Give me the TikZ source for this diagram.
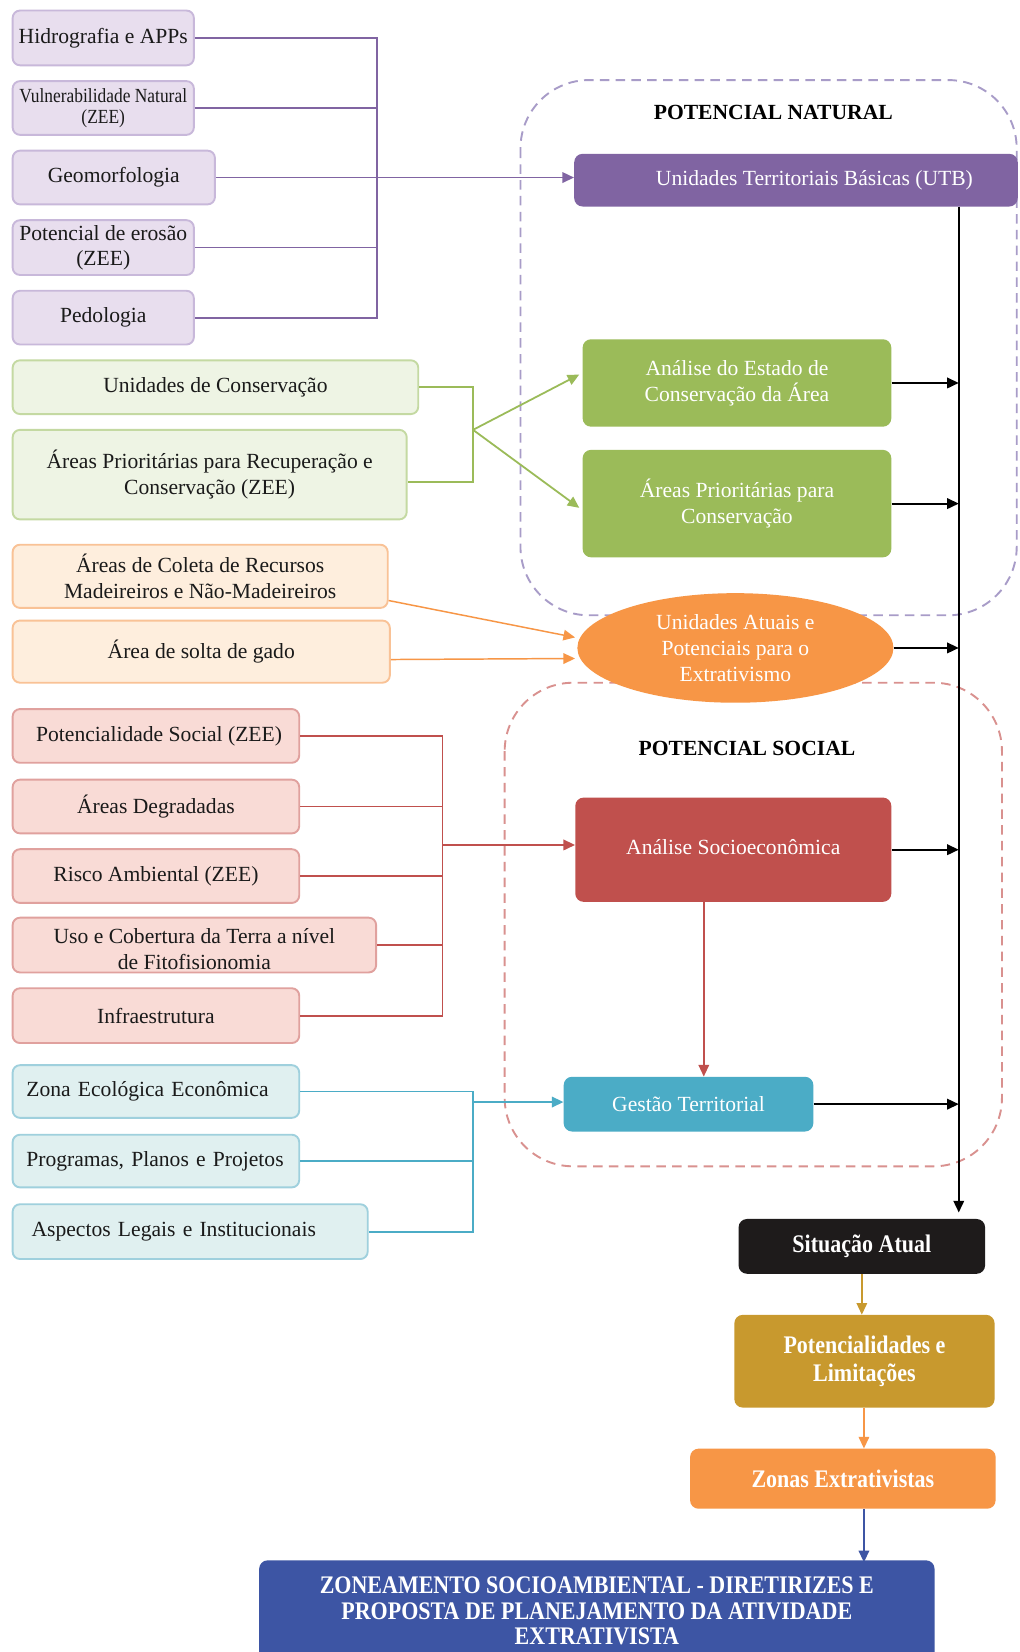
\documentclass[tikz,border=0pt]{standalone}
\usepackage{fontspec}
\setmainfont{Liberation Serif}
\newfontfamily\condserif{Liberation Serif}[FakeStretch=0.87]
\usetikzlibrary{arrows.meta,shapes.geometric,calc}
\definecolor{txt}{HTML}{1A1A1A}
\definecolor{lavfill}{HTML}{E8DEEE}
\definecolor{lavdraw}{HTML}{C8B8DA}
\definecolor{purp}{HTML}{8064A2}
\definecolor{dashpurp}{HTML}{A89CC8}
\definecolor{gfill}{HTML}{EEF4E4}
\definecolor{gdraw}{HTML}{C4D9A2}
\definecolor{grn}{HTML}{9BBB59}
\definecolor{ofill}{HTML}{FEEEDD}
\definecolor{odraw}{HTML}{F9C296}
\definecolor{orng}{HTML}{F79646}
\definecolor{rfill}{HTML}{F9DBD6}
\definecolor{rdraw}{HTML}{E0A19E}
\definecolor{rd}{HTML}{C0504D}
\definecolor{dashred}{HTML}{D9918F}
\definecolor{bfill}{HTML}{E0F0F0}
\definecolor{bdraw}{HTML}{9FD0DD}
\definecolor{blu}{HTML}{4BACC6}
\definecolor{blackbox}{HTML}{1E1B1B}
\definecolor{gold}{HTML}{C8992E}
\definecolor{navy}{HTML}{3D55A4}
\begin{document}
\begin{tikzpicture}[x=1pt,y=-1pt,
  sz/.style 2 args={minimum width=#1pt, minimum height=#2pt},
  lbox/.style={draw, line width=1.8pt, rounded corners=7pt, inner sep=0pt, align=center, text=txt, font=\fontsize{20.5}{24}\selectfont},
  pl/.style={lbox, fill=lavfill, draw=lavdraw},
  gl/.style={lbox, fill=gfill, draw=gdraw},
  ol/.style={lbox, fill=ofill, draw=odraw},
  rl/.style={lbox, fill=rfill, draw=rdraw},
  bl/.style={lbox, fill=bfill, draw=bdraw},
  cbox/.style={rounded corners=8pt, inner sep=0pt, align=center, text=white, font=\fontsize{20.5}{25}\selectfont},
  bbox/.style={rounded corners=8pt, inner sep=0pt, align=center, text=white, font=\condserif\bfseries\fontsize{24}{26}\selectfont},
  ttl/.style={font=\bfseries\fontsize{20.5}{24}\selectfont, text=black, inner sep=0pt},
  conn/.style={line width=1.7pt},
  arr/.style={conn, -{Triangle[length=11pt,width=10pt]}},
  dbox/.style={line width=1.8pt, dash pattern=on 9pt off 6pt, rounded corners=65pt}
]
\useasboundingbox[fill=white] (0,0) rectangle (968,1568);

% dashed regions
\draw[dbox, draw=dashpurp] (494,76) rectangle (965,584);
\draw[dbox, draw=dashred] (479,648) rectangle (951,1107);
\node[ttl] (titN) at (734,107) {POTENCIAL NATURAL};
\node[ttl] (titS) at (709,710) {POTENCIAL SOCIAL};

% purple inputs
\node[pl, sz={172}{52}] (hid) at (98,36) {Hidrografia e APPs};
\node[pl, sz={172}{51}, font=\condserif\fontsize{19}{20}\selectfont] (vul) at (98,102.5) {Vulnerabilidade Natural\\(ZEE)};
\node[pl, sz={192}{51}] (geo) at (108,168.5) {Geomorfologia};
\node[pl, sz={172}{52}] (pot) at (98,235) {Potencial de erosão\\(ZEE)};
\node[pl, sz={172}{51}] (ped) at (98,301.5) {Pedologia};
\node[cbox, fill=purp, sz={421}{50}] (utb) at (755.5,171) {\hspace*{35pt}Unidades Territoriais Básicas (UTB)};

\coordinate (pbx) at (358,0);
\draw[conn, purp] (hid.east) -- (hid.east -| pbx) -- (ped.east -| pbx) -- (ped.east);
\draw[conn, purp] (vul.east) -- (vul.east -| pbx);
\draw[conn, purp] (pot.east) -- (pot.east -| pbx);
\draw[arr, purp] (geo.east) -- (geo.east -| utb.west);

% green
\node[gl, sz={385}{51}] (uc) at (204.5,367.5) {Unidades de Conservação};
\node[gl, sz={374}{85}] (apr) at (199,450.5) {Áreas Prioritárias para Recuperação e\\Conservação (ZEE)};
\node[cbox, fill=grn, sz={293}{83}] (ana) at (699.5,363.5) {Análise do Estado de\\Conservação da Área};
\node[cbox, fill=grn, sz={293}{102}] (apc) at (699.5,478) {Áreas Prioritárias para\\Conservação};
\coordinate (gb) at (449,408);
\draw[conn, grn] (uc.east) -| (gb) |- ([yshift=-7pt]apr.east);
\draw[arr, grn] (gb) -- ([shift={(-3pt,8pt)}]ana.west);
\draw[arr, grn] (gb) -- ([shift={(-3pt,-4pt)}]apc.west);

% orange
\node[ol, sz={356}{60}] (col) at (190,547) {Áreas de Coleta de Recursos\\Madeireiros e Não-Madeireiros};
\node[ol, sz={358}{59}] (sol) at (191,618.5) {Área de solta de gado};
\node[ellipse, fill=orng, sz={300}{104}, inner sep=0pt, align=center, text=white, font=\fontsize{20.5}{25}\selectfont] (ell) at (698,615) {Unidades Atuais e\\Potenciais para o\\Extrativismo};
\draw[arr, orng, line width=1.4pt] ([yshift=-23pt]col.east) -- ([shift={(-2pt,10pt)}]ell.west);
\draw[arr, orng, line width=1.4pt] ([yshift=-7.5pt]sol.east) -- ([shift={(-2pt,-10pt)}]ell.west);

% red
\node[rl, sz={272}{51}] (ps) at (148,698.5) {\hspace*{6pt}Potencialidade Social (ZEE)};
\node[rl, sz={272}{51}] (ad) at (148,765.5) {Áreas Degradadas};
\node[rl, sz={272}{51}] (ra) at (148,831.5) {Risco Ambiental (ZEE)};
\node[rl, sz={345}{52}] (uso) at (184.5,897) {\raisebox{-6pt}[\height][\depth]{\begin{tabular}{@{}c@{}}Uso e Cobertura da Terra a nível\\de Fitofisionomia\end{tabular}}};
\node[rl, sz={272}{52}] (inf) at (148,964) {Infraestrutura};
\node[cbox, fill=rd, sz={300}{99}] (soc) at (696,806.5) {\raisebox{5pt}{Análise Socioeconômica}};
\coordinate (rbx) at (420,0);
\draw[conn, rd] (ps.east) -- (ps.east -| rbx) -- (inf.east -| rbx) -- (inf.east);
\draw[conn, rd] (ad.east) -- (ad.east -| rbx);
\draw[conn, rd] (ra.east) -- (ra.east -| rbx);
\draw[conn, rd] (uso.east) -- (uso.east -| rbx);
\coordinate (rb) at (420,802);
\draw[arr, rd] (rb) -- (rb -| soc.west);

% blue
\node[bl, sz={272}{50}, text width=246pt, align=left] (zee) at (148,1036) {Zona Ecológica Econômica};
\node[bl, sz={272}{50}, text width=246pt, align=left] (prog) at (148,1102) {Programas, Planos e Projetos};
\node[bl, sz={337}{52}, text width=305pt, align=left] (asp) at (180.5,1169) {\hspace*{2pt}Aspectos Legais e Institucionais};
\node[cbox, fill=blu, sz={237}{52}] (gest) at (653.5,1048) {Gestão Territorial};
\coordinate (bbx) at (449,0);
\draw[conn, blu] (zee.east) -- (zee.east -| bbx) -- (asp.east -| bbx) -- (asp.east);
\draw[conn, blu] (prog.east) -- (prog.east -| bbx);
\coordinate (bb) at (449,1046);
\draw[arr, blu] (bb) -- (bb -| gest.west);

\draw[arr, rd, line width=1.4pt] ([xshift=-28pt]soc.south) -- ([xshift=-28pt]soc.south |- gest.north);

% bottom chain
\node[bbox, fill=blackbox, sz={234}{52}] (sit) at (818,1183) {Situação Atual};
\node[bbox, fill=gold, sz={247}{88}] (potl) at (820.5,1292) {Potencialidades e\\Limitações};
\node[bbox, fill=orng, sz={290}{57}] (zon) at (800,1403.5) {Zonas Extrativistas};
\node[bbox, fill=navy, sz={641}{96}, font=\condserif\bfseries\fontsize{24}{24.5}\selectfont] (zone) at (566.5,1529) {ZONEAMENTO SOCIOAMBIENTAL - DIRETIRIZES E\\PROPOSTA DE PLANEJAMENTO DA ATIVIDADE\\EXTRATIVISTA};

% black collectors
\coordinate (vx) at (910,0);
\draw[arr, black] (vx |- utb.south) -- ([yshift=6pt]vx |- sit.north);
\draw[arr, black] (ana.east) -- (ana.east -| vx);
\draw[arr, black] (apc.east) -- (apc.east -| vx);
\draw[arr, black] (ell.east) -- (ell.east -| vx);
\draw[arr, black] (soc.east) -- (soc.east -| vx);
\draw[arr, black] (gest.east) -- (gest.east -| vx);

\draw[arr, gold, line width=1.4pt] (sit.south) -- (sit.south |- potl.north);
\coordinate (cx) at (820,0);
\draw[arr, orng, line width=1.4pt] (cx |- potl.south) -- (cx |- zon.north);
\draw[arr, navy, line width=1.4pt] (cx |- zon.south) -- ([yshift=-2pt]cx |- zone.north);
\end{tikzpicture}
\end{document}
